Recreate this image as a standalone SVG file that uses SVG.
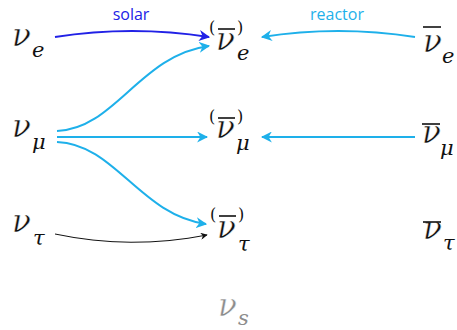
<svg xmlns="http://www.w3.org/2000/svg" width="457" height="330" viewBox="0 0 457 330">
<style>
.m{font-family:"DejaVu Serif","Liberation Serif",serif;font-style:italic;fill:#111}
.nu{font-size:31px;stroke:#fff;stroke-width:0.45px}
.sub{font-size:21px;stroke:none}
.par{font-family:"DejaVu Serif","Liberation Serif",serif;font-size:16px;fill:#111}
.bar{stroke:#111;stroke-width:1.6}
.lbl{font-family:"Open Sans","Liberation Sans",sans-serif;font-size:16px;text-anchor:middle}
.c{fill:none;stroke-width:2}
</style>
<defs>
<marker id="ab" viewBox="0 0 10 10" refX="9" refY="5" markerWidth="11" markerHeight="11" markerUnits="userSpaceOnUse" orient="auto"><path d="M0,0 L10,5 L0,10 L3,5 Z" fill="#2121e6"/></marker>
<marker id="ac" viewBox="0 0 10 10" refX="9" refY="5" markerWidth="11" markerHeight="11" markerUnits="userSpaceOnUse" orient="auto"><path d="M0,0 L10,5 L0,10 L3,5 Z" fill="#1eb0ea"/></marker>
<marker id="ak" viewBox="0 0 10 10" refX="9" refY="5" markerWidth="7" markerHeight="7" markerUnits="userSpaceOnUse" orient="auto"><path d="M0,0 L10,5 L0,10 L3,5 Z" fill="#111"/></marker>
</defs>
<g id="connectors">
<path class="c" d="M55,37 Q132,25 209,37" stroke="#2121e6" marker-end="url(#ab)"/>
<path class="c" d="M415,37 Q338,25 262,37" stroke="#1eb0ea" marker-end="url(#ac)"/>
<path class="c" d="M57,131 C115,129 140,55 209,46" stroke="#1eb0ea" marker-end="url(#ac)"/>
<path class="c" d="M57,137 L207,137" stroke="#1eb0ea" marker-end="url(#ac)"/>
<path class="c" d="M57,142 C115,144 140,215 206,224" stroke="#1eb0ea" marker-end="url(#ac)"/>
<path class="c" d="M415,137 L262,137" stroke="#1eb0ea" marker-end="url(#ac)"/>
<path d="M55,234 Q131,250 207,235" fill="none" stroke="#111" stroke-width="1" marker-end="url(#ak)"/>
<text class="lbl" x="131" y="20" fill="#2121e6">solar</text>
<text class="lbl" x="337" y="20" fill="#1eb0ea">reactor</text>
</g>
<g id="nu_e"><text class="m" x="12" y="46"><tspan class="nu">ν</tspan><tspan class="sub" x="32" y="57">e</tspan></text></g>
<g id="nu_mu"><text class="m" x="12" y="137"><tspan class="nu">ν</tspan><tspan class="sub" x="32" y="149">μ</tspan></text></g>
<g id="nu_tau"><text class="m" x="12" y="232"><tspan class="nu">ν</tspan><tspan class="sub" x="33" y="245">τ</tspan></text></g>

<g id="nub_e_mid"><text class="m" x="216" y="50"><tspan class="nu">ν</tspan><tspan class="sub" x="237" y="60">e</tspan></text>
<line class="bar" x1="218" y1="29" x2="235" y2="29"/><text class="par" x="209" y="33">(</text><text class="par" x="237" y="33">)</text></g>
<g id="nub_mu_mid"><text class="m" x="216" y="138"><tspan class="nu">ν</tspan><tspan class="sub" x="236" y="150">μ</tspan></text>
<line class="bar" x1="218" y1="118" x2="235" y2="118"/><text class="par" x="209" y="122">(</text><text class="par" x="237" y="122">)</text></g>
<g id="nub_tau_mid"><text class="m" x="217" y="238"><tspan class="nu">ν</tspan><tspan class="sub" x="238" y="251">τ</tspan></text>
<line class="bar" x1="219" y1="216" x2="236" y2="216"/><text class="par" x="210" y="220">(</text><text class="par" x="238" y="220">)</text></g>

<g id="nub_e"><text class="m" x="423" y="52"><tspan class="nu">ν</tspan><tspan class="sub" x="442" y="63">e</tspan></text><line class="bar" x1="423" y1="27" x2="441" y2="27"/></g>
<g id="nub_mu"><text class="m" x="422" y="143"><tspan class="nu">ν</tspan><tspan class="sub" x="440" y="155">μ</tspan></text><line class="bar" x1="422" y1="124" x2="440" y2="124"/></g>
<g id="nub_tau"><text class="m" x="423" y="239"><tspan class="nu">ν</tspan><tspan class="sub" x="443" y="250">τ</tspan></text><line class="bar" x1="423" y1="222" x2="441" y2="222"/></g>

<g id="nu_s"><text class="m" x="218" y="316" style="fill:#8c8c8c"><tspan class="nu">ν</tspan><tspan class="sub" x="238" y="325">s</tspan></text></g>
</svg>
